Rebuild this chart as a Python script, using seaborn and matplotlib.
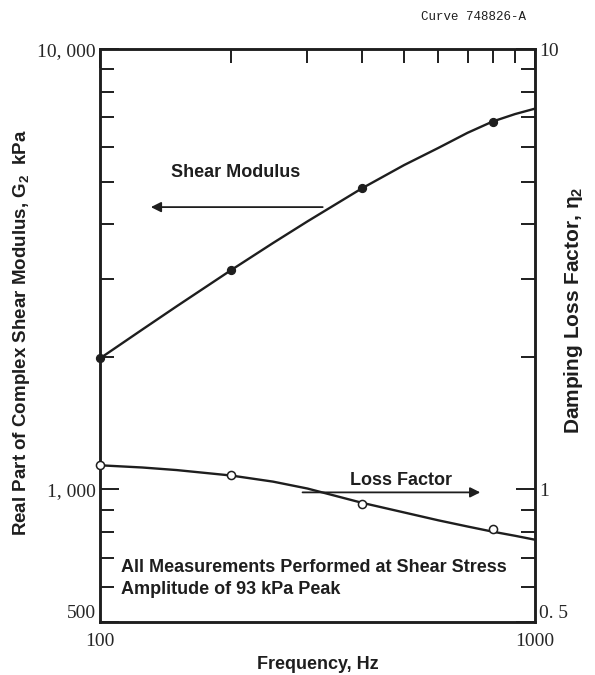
import matplotlib
matplotlib.use("Agg")
import matplotlib.pyplot as plt
import matplotlib.ticker as mticker
import numpy as np
import pandas as pd
import seaborn as sns

# measured points
freq_pts = [100, 200, 400, 800]
shear_pts = [1985, 3150, 4830, 6850]      # kPa
loss_pts = [1.135, 1.08, 0.925, 0.815]    # loss factor

# fitted curves as drawn
freq_curve = [100, 125, 150, 200, 250, 300, 400, 500, 600, 700, 800, 900, 1000]
shear_curve = [1985, 2307, 2606, 3148, 3630, 4065, 4830, 5455, 5970, 6460, 6855, 7125, 7330]
loss_curve = [1.135, 1.122, 1.107, 1.076, 1.042, 1.005, 0.933, 0.887, 0.851, 0.824,
              0.802, 0.785, 0.769]

sns.set_theme(style="white")
plt.rcParams['font.family'] = ['Liberation Sans', 'DejaVu Sans']
plt.rcParams['mathtext.fontset'] = 'custom'
plt.rcParams['mathtext.rm'] = 'Liberation Sans:bold'
plt.rcParams['mathtext.it'] = 'Liberation Sans:bold'
plt.rcParams['mathtext.bf'] = 'Liberation Sans:bold'
ink = '#1e1e1e'

fig = plt.figure(figsize=(5.95, 6.75), dpi=100)
ax = fig.add_axes([0.168, 0.0785, 0.731, 0.8485])
ax2 = ax.twinx()

df_sc = pd.DataFrame({'f': freq_curve, 'g': shear_curve})
df_sp = pd.DataFrame({'f': freq_pts, 'g': shear_pts})
df_lc = pd.DataFrame({'f': freq_curve, 'n': loss_curve})
df_lp = pd.DataFrame({'f': freq_pts, 'n': loss_pts})

sns.lineplot(data=df_sc, x='f', y='g', ax=ax, color=ink, lw=1.7)
sns.scatterplot(data=df_sp, x='f', y='g', ax=ax, color=ink, s=32,
                edgecolor=ink, linewidth=1, zorder=5, clip_on=False)
sns.lineplot(data=df_lc, x='f', y='n', ax=ax2, color=ink, lw=1.7)
sns.scatterplot(data=df_lp, x='f', y='n', ax=ax2, facecolor='white', s=34,
                edgecolor=ink, linewidth=1.1, zorder=5, clip_on=False)

for a in (ax, ax2):
    a.set_xscale('log')
    a.set_yscale('log')
    a.set_xlim(100, 1000)
ax.set_ylim(500, 10000)
ax2.set_ylim(0.5, 10)

serif = {'family': 'Liberation Serif', 'size': 14}

ax.set_xticks([100, 1000])
ax.set_xticklabels(['100', '1000'], fontdict=serif)
ax.xaxis.set_minor_locator(mticker.LogLocator(base=10, subs=np.arange(2, 10)))
ax.xaxis.set_minor_formatter(mticker.NullFormatter())
ax.set_yticks([500, 1000, 10000])
ax.set_yticklabels(['500', '1, 000', '10, 000'], fontdict=serif)
ax.yaxis.set_minor_locator(mticker.LogLocator(base=10, subs=np.arange(2, 10)))
ax.yaxis.set_minor_formatter(mticker.NullFormatter())
ax2.set_yticks([0.5, 1, 10])
ax2.set_yticklabels(['0. 5', '1', '10'], fontdict=serif)
ax2.yaxis.set_minor_locator(mticker.LogLocator(base=10, subs=np.arange(2, 10)))
ax2.yaxis.set_minor_formatter(mticker.NullFormatter())

# bottom labels of the y axes sit a bit above the corner
ax.get_yticklabels()[0].set_va('bottom')
ax2.get_yticklabels()[0].set_va('bottom')

ax.tick_params(axis='both', which='major', direction='in', length=14, width=1.4,
               color=ink, top=True, pad=3)
ax.tick_params(axis='both', which='minor', direction='in', length=10, width=1.4,
               color=ink, top=True)
ax.tick_params(axis='x', which='major', pad=8)
ax2.tick_params(axis='y', which='major', direction='in', length=14, width=1.4, color=ink, pad=3)
ax2.tick_params(axis='y', which='minor', direction='in', length=10, width=1.4, color=ink)

for a in (ax, ax2):
    for sp in a.spines.values():
        sp.set_color(ink)
        sp.set_linewidth(1.8)

ax.set_xlabel('Frequency, Hz', fontsize=13, fontweight='bold', color=ink, labelpad=4)
ax.set_ylabel(r'Real Part of Complex Shear Modulus, $G_2$  kPa', fontsize=13.5,
              fontweight='bold', color=ink)
ax.yaxis.set_label_coords(-0.156, 0.506)
ax2.set_ylabel(r'Damping Loss Factor, $\eta_2$', fontsize=15, fontweight='bold', color=ink)
ax2.yaxis.set_label_coords(1.062, 0.545)

# annotations
ax.text(146, 5250, 'Shear Modulus', fontsize=13, fontweight='bold', color=ink, va='center')
ax.annotate('', xy=(129, 4380), xytext=(330, 4380),
            arrowprops=dict(arrowstyle='-|>', color=ink, lw=1.3, mutation_scale=15))
ax2.text(376, 1.05, 'Loss Factor', fontsize=13, fontweight='bold', color=ink, va='center')
ax2.annotate('', xy=(760, 0.985), xytext=(288, 0.985),
             arrowprops=dict(arrowstyle='-|>', color=ink, lw=1.3, mutation_scale=15))
ax.text(112, 628, 'All Measurements Performed at Shear Stress\nAmplitude of 93 kPa Peak',
        fontsize=13, fontweight='bold', color=ink, va='center', linespacing=1.4)

fig.text(0.795, 0.975, 'Curve 748826-A', fontsize=9, family='Liberation Mono',
         color=ink, ha='center', va='center')

fig.savefig('out.png', dpi=100)
